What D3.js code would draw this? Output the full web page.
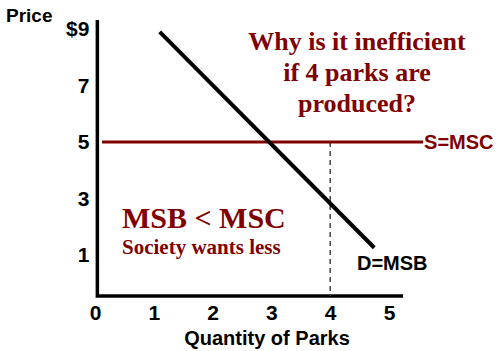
<!DOCTYPE html>
<html>
<head>
<meta charset="utf-8">
<script src="https://d3js.org/d3.v7.min.js"></script>
<style>
  body { margin: 0; background: #fff; }
  text { font-family: "Liberation Sans", Arial, sans-serif; font-weight: bold; }
  .serif { font-family: "Liberation Serif", "Times New Roman", serif; }
</style>
</head>
<body>
<div id="chart"></div>
<script>
// Tick labels on each axis
var xTicks = [0, 1, 2, 3, 4, 5];
var yTicks = [1, 3, 5, 7, 9];

// Demand (D=MSB) line end points: quantity and price
var demandQty = [1.1, 4.75];
var demandPrice = [8.9, 1.25];

// Supply (S=MSC) flat line at $5
var supplyQty = [0.12, 5.58];
var supplyPrice = [5, 5];

// Quantity where the dashed line is drawn
var producedQty = 4;

// Where the axis lines start and stop (in data units)
var axisQty = [0.04, 5.24];
var axisPrice = [-0.46, 9.32];

var titleLines = ["Why is it inefficient", "if 4 parks are", "produced?"];

var width = 500, height = 351;
var darkRed = "#800000";

var svg = d3.select("#chart").append("svg")
    .attr("width", width)
    .attr("height", height);

var x = d3.scaleLinear().domain([0, 5]).range([95, 389]);
var y = d3.scaleLinear().domain([0, 9]).range([283, 29]);

// Tick labels only, no tick marks
var xAxis = svg.append("g")
    .attr("transform", "translate(0," + y(axisPrice[0]) + ")")
    .call(d3.axisBottom(x).tickValues(xTicks).tickSize(0).tickPadding(9)
        .tickFormat(d3.format("d")));
xAxis.select(".domain").remove();
xAxis.selectAll("text").style("font-size", "21px").attr("fill", "#000");

var yAxis = svg.append("g")
    .attr("transform", "translate(" + x(axisQty[0]) + ",0)")
    .call(d3.axisLeft(y).tickValues(yTicks).tickSize(0).tickPadding(8)
        .tickFormat(function(d) { return d === 9 ? "$9" : d; }));
yAxis.select(".domain").remove();
yAxis.selectAll("text").style("font-size", "21px").attr("fill", "#000");

// Axis lines
svg.append("path")
    .attr("d", "M" + x(axisQty[0]) + "," + y(axisPrice[1]) +
               "V" + y(axisPrice[0]) + "H" + x(axisQty[1]))
    .attr("fill", "none")
    .attr("stroke", "#000")
    .attr("stroke-width", 3.5);

// Dashed line at 4 parks
svg.append("line")
    .attr("x1", x(producedQty)).attr("x2", x(producedQty))
    .attr("y1", y(supplyPrice[0])).attr("y2", y(axisPrice[0]))
    .attr("stroke", "#444")
    .attr("stroke-width", 1.5)
    .attr("stroke-dasharray", "5,4");

var line = d3.line()
    .x(function(d) { return x(d[0]); })
    .y(function(d) { return y(d[1]); });

// Supply line
svg.append("path")
    .datum(d3.zip(supplyQty, supplyPrice))
    .attr("d", line)
    .attr("fill", "none")
    .attr("stroke", darkRed)
    .attr("stroke-width", 3);

// Demand line
svg.append("path")
    .datum(d3.zip(demandQty, demandPrice))
    .attr("d", line)
    .attr("fill", "none")
    .attr("stroke", "#000")
    .attr("stroke-width", 4);

// Labels
svg.append("text").attr("x", 6).attr("y", 22)
    .style("font-size", "19px").text("Price");

svg.append("text").attr("x", 267).attr("y", 345)
    .attr("text-anchor", "middle")
    .style("font-size", "20px").text("Quantity of Parks");

svg.append("text").attr("x", x(supplyQty[1]) + 1).attr("y", y(5) + 7)
    .attr("fill", darkRed)
    .style("font-size", "20px").text("S=MSC");

svg.append("text").attr("x", 357).attr("y", 270)
    .style("font-size", "20px").text("D=MSB");

svg.append("g").selectAll("text")
    .data(titleLines)
    .enter().append("text")
    .attr("class", "serif")
    .attr("x", 357)
    .attr("y", function(d, i) { return 50 + i * 31; })
    .attr("text-anchor", "middle")
    .attr("fill", darkRed)
    .style("font-size", "26px")
    .text(function(d) { return d; });

svg.append("text").attr("class", "serif")
    .attr("x", 122).attr("y", 228)
    .attr("fill", darkRed)
    .style("font-size", "30px").text("MSB < MSC");

svg.append("text").attr("class", "serif")
    .attr("x", 122).attr("y", 254)
    .attr("fill", darkRed)
    .style("font-size", "21px").text("Society wants less");
</script>
</body>
</html>
